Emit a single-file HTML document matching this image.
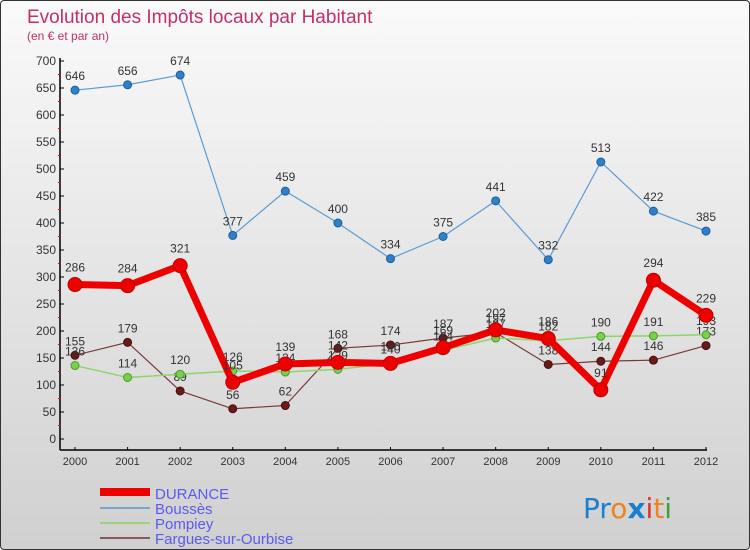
<!DOCTYPE html>
<html><head><meta charset="utf-8"><style>
html,body{margin:0;padding:0;}
body{width:750px;height:550px;overflow:hidden;font-family:"Liberation Sans",sans-serif;}
#wrap{position:absolute;left:0;top:0;width:748px;height:548px;border:1px solid #333;border-radius:4px;background:linear-gradient(#fafafa,#d0d0d0);}
</style></head><body>
<div id="wrap">
<svg id="chart" width="750" height="550" style="position:absolute;left:-1px;top:-1px">
<text x="27" y="23" font-size="19" fill="#c0306a">Evolution des Impôts locaux par Habitant</text>
<text x="27" y="40" font-size="12" fill="#c0306a">(en € et par an)</text>
<g id="axes"></g>
<g id="series"></g>
<g id="legend">
<rect x="100" y="488" width="50" height="8" fill="#e00"/>
<text x="155" y="499" font-size="15" fill="#5a5af0">DURANCE</text>
<line x1="100" y1="508" x2="150" y2="508" stroke="#7aa6cc" stroke-width="2"/>
<text x="155" y="514" font-size="15" fill="#5a5af0">Boussès</text>
<line x1="100" y1="523" x2="150" y2="523" stroke="#9ad47a" stroke-width="2"/>
<text x="155" y="529" font-size="15" fill="#5a5af0">Pompiey</text>
<line x1="100" y1="538" x2="150" y2="538" stroke="#8a5a5a" stroke-width="2"/>
<text x="155" y="544" font-size="15" fill="#5a5af0">Fargues-sur-Ourbise</text>
</g>
<g font-size="28" font-family="'DejaVu Sans',sans-serif">
<text x="583" y="518"><tspan fill="#1a7fd0">Pr</tspan><tspan fill="#f08020">o</tspan><tspan fill="#1a7fd0" font-weight="bold">x</tspan><tspan fill="#e03030">i</tspan><tspan fill="#f08020">t</tspan><tspan fill="#40a040">i</tspan></text>
</g>
</svg>
</div>
<script>
const years=[2000,2001,2002,2003,2004,2005,2006,2007,2008,2009,2010,2011,2012];
const durance=[286,284,321,105,139,142,140,169,202,186,91,294,229];
const bousses=[646,656,674,377,459,400,334,375,441,332,513,422,385];
const pompiey=[136,114,120,126,124,129,140,164,187,182,190,191,193];
const fargues=[155,179,89,56,62,168,174,187,197,138,144,146,173];
const yTicks=[0,50,100,150,200,250,300,350,400,450,500,550,600,650,700];
const NS="http://www.w3.org/2000/svg";
function X(i){return 75+i*(706-75)/(years.length-1);}
function Y(v){return 439-v*(439-61)/700;}
function mk(tag,attrs,parent){const e=document.createElementNS(NS,tag);for(const k in attrs)e.setAttribute(k,attrs[k]);parent.appendChild(e);return e;}
const axes=document.getElementById('axes');
const yl=mk('line',{x1:60,y1:58,x2:60,y2:450,stroke:'#000','stroke-width':1.5},axes);


const xl=mk('line',{x1:60,y1:450,x2:707,y2:450,stroke:'#000','stroke-width':1.5},axes);


yTicks.forEach(v=>{
  mk('line',{x1:60,y1:Y(v),x2:64,y2:Y(v),stroke:'#000'},axes);
  if(v<700) mk('line',{x1:58,y1:Y(v+25),x2:61,y2:Y(v+25),stroke:'#e00'},axes);
  const t=mk('text',{x:56,y:Y(v)+4,'text-anchor':'end','font-size':12,fill:'#333'},axes);
  t.textContent=v;
  
  
});
years.forEach((yr,i)=>{
  mk('line',{x1:X(i),y1:447,x2:X(i),y2:450,stroke:'#000'},axes);
  const t=mk('text',{x:X(i),y:465,'text-anchor':'middle','font-size':11,fill:'#333'},axes);
  t.textContent=yr;
  
  
});
const ser=document.getElementById('series');
function draw(vals,name,color,width,r,dot,stroke){
  const g=mk('g',{},ser);
  
  
  const p=mk('polyline',{points:vals.map((v,i)=>X(i)+','+Y(v)).join(' '),fill:'none',stroke:color,'stroke-width':width,'stroke-linejoin':'round'},g);
  
  
  vals.forEach((v,i)=>{
    const c=mk('circle',{cx:X(i),cy:Y(v),r:r,fill:dot,stroke:stroke,'stroke-width':1},g);
    
    
    const t=mk('text',{x:X(i),y:Y(v)-(r+6),'text-anchor':'middle','font-size':12,fill:'#333'},g);
    t.textContent=v;
    
    
  });
}
draw(bousses,'bousses','#5b9bd5',1.2,4,'#2f80c8','#1a5f9a');
draw(fargues,'fargues','#7a3a3a',1.2,4,'#6b1a1a','#4a0e0e');
draw(pompiey,'pompiey','#8fd46a',1.5,4,'#7ad04a','#4a9a2a');
draw(durance,'durance','#ee0000',7,7,'#ee0000','#c00000');
// redraw pompiey/fargues points on top like reference
</script>
</body></html>
